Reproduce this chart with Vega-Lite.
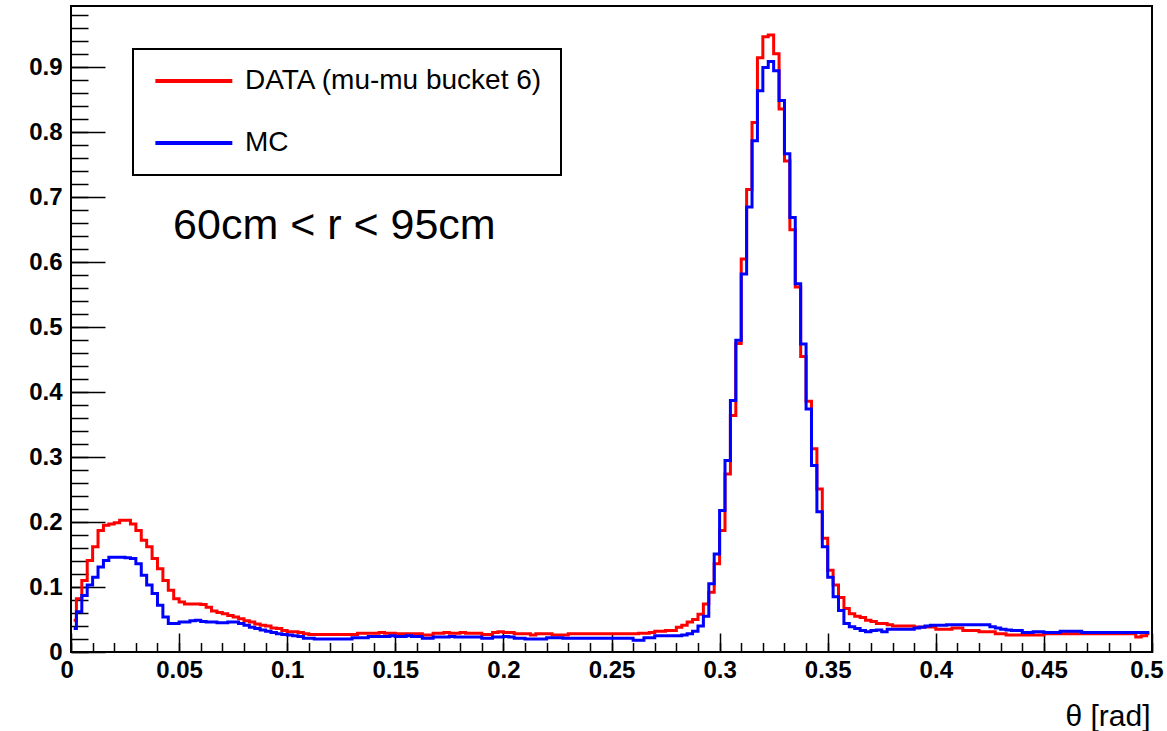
{
  "$schema": "https://vega.github.io/schema/vega-lite/v6.json",
  "width": 1081,
  "height": 646,
  "autosize": {"type": "none"},
  "padding": {"left": 71, "top": 6, "right": 15, "bottom": 79},
  "background": "white",
  "config": {
    "view": {"stroke": "black", "strokeWidth": 2},
    "font": "Liberation Sans",
    "axis": {"labelColor": "black", "tickColor": "black", "domainColor": "black", "grid": false, "labelFont": "Liberation Sans", "titleFont": "Liberation Sans", "titleColor": "black", "tickWidth": 1.5}
  },
  "datasets": {
    "hist": [
      {"theta":0.00125,"data":0.049,"mc":0.036},{"theta":0.00375,"data":0.082,"mc":0.062},{"theta":0.00625,"data":0.110,"mc":0.087},{"theta":0.00875,"data":0.141,"mc":0.103},{"theta":0.01125,"data":0.162,"mc":0.115},
      {"theta":0.01375,"data":0.187,"mc":0.131},{"theta":0.01625,"data":0.195,"mc":0.141},{"theta":0.01875,"data":0.197,"mc":0.146},{"theta":0.02125,"data":0.199,"mc":0.146},{"theta":0.02375,"data":0.203,"mc":0.146},
      {"theta":0.02625,"data":0.203,"mc":0.145},{"theta":0.02875,"data":0.197,"mc":0.144},{"theta":0.03125,"data":0.187,"mc":0.136},{"theta":0.03375,"data":0.172,"mc":0.118},{"theta":0.03625,"data":0.162,"mc":0.103},
      {"theta":0.03875,"data":0.144,"mc":0.090},{"theta":0.04125,"data":0.128,"mc":0.072},{"theta":0.04375,"data":0.110,"mc":0.054},{"theta":0.04625,"data":0.095,"mc":0.044},{"theta":0.04875,"data":0.082,"mc":0.044},
      {"theta":0.05125,"data":0.077,"mc":0.046},{"theta":0.05375,"data":0.074,"mc":0.046},{"theta":0.05625,"data":0.074,"mc":0.048},{"theta":0.05875,"data":0.074,"mc":0.049},{"theta":0.06125,"data":0.073,"mc":0.047},
      {"theta":0.06375,"data":0.069,"mc":0.046},{"theta":0.06625,"data":0.063,"mc":0.046},{"theta":0.06875,"data":0.061,"mc":0.045},{"theta":0.07125,"data":0.059,"mc":0.045},{"theta":0.07375,"data":0.056,"mc":0.046},
      {"theta":0.07625,"data":0.054,"mc":0.046},{"theta":0.07875,"data":0.051,"mc":0.044},{"theta":0.08125,"data":0.048,"mc":0.041},{"theta":0.08375,"data":0.046,"mc":0.038},{"theta":0.08625,"data":0.043,"mc":0.036},
      {"theta":0.08875,"data":0.041,"mc":0.034},{"theta":0.09125,"data":0.040,"mc":0.032},{"theta":0.09375,"data":0.037,"mc":0.030},{"theta":0.09625,"data":0.036,"mc":0.028},{"theta":0.09875,"data":0.033,"mc":0.027},
      {"theta":0.10125,"data":0.031,"mc":0.026},{"theta":0.10375,"data":0.031,"mc":0.025},{"theta":0.10625,"data":0.030,"mc":0.024},{"theta":0.10875,"data":0.028,"mc":0.021},{"theta":0.11125,"data":0.027,"mc":0.021},
      {"theta":0.11375,"data":0.027,"mc":0.020},{"theta":0.11625,"data":0.027,"mc":0.020},{"theta":0.11875,"data":0.027,"mc":0.020},{"theta":0.12125,"data":0.027,"mc":0.020},{"theta":0.12375,"data":0.027,"mc":0.020},
      {"theta":0.12625,"data":0.027,"mc":0.020},{"theta":0.12875,"data":0.027,"mc":0.020},{"theta":0.13125,"data":0.027,"mc":0.022},{"theta":0.13375,"data":0.029,"mc":0.022},{"theta":0.13625,"data":0.029,"mc":0.022},
      {"theta":0.13875,"data":0.029,"mc":0.024},{"theta":0.14125,"data":0.029,"mc":0.024},{"theta":0.14375,"data":0.030,"mc":0.024},{"theta":0.14625,"data":0.029,"mc":0.024},{"theta":0.14875,"data":0.029,"mc":0.025},
      {"theta":0.15125,"data":0.028,"mc":0.024},{"theta":0.15375,"data":0.028,"mc":0.024},{"theta":0.15625,"data":0.028,"mc":0.025},{"theta":0.15875,"data":0.028,"mc":0.024},{"theta":0.16125,"data":0.028,"mc":0.024},
      {"theta":0.16375,"data":0.026,"mc":0.021},{"theta":0.16625,"data":0.026,"mc":0.021},{"theta":0.16875,"data":0.029,"mc":0.023},{"theta":0.17125,"data":0.029,"mc":0.023},{"theta":0.17375,"data":0.030,"mc":0.023},
      {"theta":0.17625,"data":0.029,"mc":0.024},{"theta":0.17875,"data":0.029,"mc":0.023},{"theta":0.18125,"data":0.030,"mc":0.023},{"theta":0.18375,"data":0.029,"mc":0.023},{"theta":0.18625,"data":0.029,"mc":0.023},
      {"theta":0.18875,"data":0.029,"mc":0.023},{"theta":0.19125,"data":0.027,"mc":0.021},{"theta":0.19375,"data":0.027,"mc":0.021},{"theta":0.19625,"data":0.030,"mc":0.023},{"theta":0.19875,"data":0.031,"mc":0.023},
      {"theta":0.20125,"data":0.030,"mc":0.024},{"theta":0.20375,"data":0.030,"mc":0.023},{"theta":0.20625,"data":0.028,"mc":0.021},{"theta":0.20875,"data":0.028,"mc":0.021},{"theta":0.21125,"data":0.028,"mc":0.020},
      {"theta":0.21375,"data":0.026,"mc":0.020},{"theta":0.21625,"data":0.028,"mc":0.020},{"theta":0.21875,"data":0.028,"mc":0.020},{"theta":0.22125,"data":0.028,"mc":0.022},{"theta":0.22375,"data":0.026,"mc":0.022},
      {"theta":0.22625,"data":0.026,"mc":0.022},{"theta":0.22875,"data":0.026,"mc":0.021},{"theta":0.23125,"data":0.028,"mc":0.021},{"theta":0.23375,"data":0.028,"mc":0.021},{"theta":0.23625,"data":0.028,"mc":0.021},
      {"theta":0.23875,"data":0.028,"mc":0.021},{"theta":0.24125,"data":0.028,"mc":0.021},{"theta":0.24375,"data":0.028,"mc":0.021},{"theta":0.24625,"data":0.028,"mc":0.021},{"theta":0.24875,"data":0.028,"mc":0.021},
      {"theta":0.25125,"data":0.028,"mc":0.021},{"theta":0.25375,"data":0.028,"mc":0.021},{"theta":0.25625,"data":0.028,"mc":0.021},{"theta":0.25875,"data":0.028,"mc":0.021},{"theta":0.26125,"data":0.028,"mc":0.018},
      {"theta":0.26375,"data":0.029,"mc":0.018},{"theta":0.26625,"data":0.029,"mc":0.022},{"theta":0.26875,"data":0.030,"mc":0.022},{"theta":0.27125,"data":0.032,"mc":0.025},{"theta":0.27375,"data":0.032,"mc":0.025},
      {"theta":0.27625,"data":0.033,"mc":0.025},{"theta":0.27875,"data":0.033,"mc":0.025},{"theta":0.28125,"data":0.038,"mc":0.025},{"theta":0.28375,"data":0.041,"mc":0.026},{"theta":0.28625,"data":0.046,"mc":0.028},
      {"theta":0.28875,"data":0.050,"mc":0.032},{"theta":0.29125,"data":0.058,"mc":0.040},{"theta":0.29375,"data":0.074,"mc":0.055},{"theta":0.29625,"data":0.092,"mc":0.105},{"theta":0.29875,"data":0.136,"mc":0.151},
      {"theta":0.30125,"data":0.187,"mc":0.218},{"theta":0.30375,"data":0.274,"mc":0.295},{"theta":0.30625,"data":0.364,"mc":0.387},{"theta":0.30875,"data":0.475,"mc":0.480},{"theta":0.31125,"data":0.605,"mc":0.582},
      {"theta":0.31375,"data":0.712,"mc":0.685},{"theta":0.31625,"data":0.815,"mc":0.787},{"theta":0.31875,"data":0.915,"mc":0.864},{"theta":0.32125,"data":0.947,"mc":0.900},{"theta":0.32375,"data":0.950,"mc":0.909},
      {"theta":0.32625,"data":0.921,"mc":0.895},{"theta":0.32875,"data":0.836,"mc":0.849},{"theta":0.33125,"data":0.756,"mc":0.767},{"theta":0.33375,"data":0.650,"mc":0.669},{"theta":0.33625,"data":0.562,"mc":0.567},
      {"theta":0.33875,"data":0.455,"mc":0.474},{"theta":0.34125,"data":0.386,"mc":0.374},{"theta":0.34375,"data":0.313,"mc":0.287},{"theta":0.34625,"data":0.251,"mc":0.216},{"theta":0.34875,"data":0.175,"mc":0.162},
      {"theta":0.35125,"data":0.126,"mc":0.115},{"theta":0.35375,"data":0.103,"mc":0.085},{"theta":0.35625,"data":0.084,"mc":0.064},{"theta":0.35875,"data":0.067,"mc":0.044},{"theta":0.36125,"data":0.059,"mc":0.039},
      {"theta":0.36375,"data":0.055,"mc":0.036},{"theta":0.36625,"data":0.053,"mc":0.033},{"theta":0.36875,"data":0.049,"mc":0.031},{"theta":0.37125,"data":0.047,"mc":0.033},{"theta":0.37375,"data":0.044,"mc":0.034},
      {"theta":0.37625,"data":0.044,"mc":0.031},{"theta":0.37875,"data":0.042,"mc":0.035},{"theta":0.38125,"data":0.040,"mc":0.035},{"theta":0.38375,"data":0.040,"mc":0.035},{"theta":0.38625,"data":0.040,"mc":0.035},
      {"theta":0.38875,"data":0.040,"mc":0.035},{"theta":0.39125,"data":0.0385,"mc":0.037},{"theta":0.39375,"data":0.0385,"mc":0.038},{"theta":0.39625,"data":0.0385,"mc":0.040},{"theta":0.39875,"data":0.0385,"mc":0.041},
      {"theta":0.40125,"data":0.035,"mc":0.041},{"theta":0.40375,"data":0.035,"mc":0.041},{"theta":0.40625,"data":0.035,"mc":0.042},{"theta":0.40875,"data":0.037,"mc":0.042},{"theta":0.41125,"data":0.037,"mc":0.042},
      {"theta":0.41375,"data":0.033,"mc":0.042},{"theta":0.41625,"data":0.033,"mc":0.042},{"theta":0.41875,"data":0.033,"mc":0.042},{"theta":0.42125,"data":0.031,"mc":0.042},{"theta":0.42375,"data":0.031,"mc":0.042},
      {"theta":0.42625,"data":0.031,"mc":0.039},{"theta":0.42875,"data":0.028,"mc":0.037},{"theta":0.43125,"data":0.028,"mc":0.035},{"theta":0.43375,"data":0.026,"mc":0.034},{"theta":0.43625,"data":0.026,"mc":0.033},
      {"theta":0.43875,"data":0.026,"mc":0.033},{"theta":0.44125,"data":0.026,"mc":0.030},{"theta":0.44375,"data":0.026,"mc":0.030},{"theta":0.44625,"data":0.026,"mc":0.031},{"theta":0.44875,"data":0.026,"mc":0.031},
      {"theta":0.45125,"data":0.028,"mc":0.030},{"theta":0.45375,"data":0.028,"mc":0.030},{"theta":0.45625,"data":0.028,"mc":0.030},{"theta":0.45875,"data":0.028,"mc":0.032},{"theta":0.46125,"data":0.028,"mc":0.032},
      {"theta":0.46375,"data":0.028,"mc":0.032},{"theta":0.46625,"data":0.028,"mc":0.032},{"theta":0.46875,"data":0.028,"mc":0.030},{"theta":0.47125,"data":0.028,"mc":0.030},{"theta":0.47375,"data":0.028,"mc":0.030},
      {"theta":0.47625,"data":0.028,"mc":0.030},{"theta":0.47875,"data":0.028,"mc":0.030},{"theta":0.48125,"data":0.028,"mc":0.030},{"theta":0.48375,"data":0.028,"mc":0.030},{"theta":0.48625,"data":0.028,"mc":0.030},
      {"theta":0.48875,"data":0.028,"mc":0.030},{"theta":0.49125,"data":0.028,"mc":0.030},{"theta":0.49375,"data":0.023,"mc":0.030},{"theta":0.49625,"data":0.025,"mc":0.030},{"theta":0.49875,"data":0.028,"mc":0.030}
    ]
  },
  "layer": [
    {
      "data": {"name": "hist"},
      "mark": {"type": "line", "interpolate": "step", "strokeWidth": 3},
      "encoding": {
        "x": {"field": "theta", "type": "quantitative", "scale": {"domain": [0, 0.5], "nice": false, "zero": false},
          "axis": {"orient": "bottom", "values": [0,0.05,0.1,0.15,0.2,0.25,0.3,0.35,0.4,0.45,0.5], "format": "~g", "ticks": false, "domain": false, "labelFontSize": 24, "labelFontWeight": "bold", "labelPadding": 6, "labelFlush": true, "labelFlushOffset": 11, "labelOverlap": false,
            "title": "θ [rad]", "titleFontSize": 30, "titleFontWeight": "normal", "titleAnchor": "end", "titleAlign": "right", "titleX": 1079, "titleY": 73, "titleBaseline": "alphabetic"}},
        "y": {"field": "data", "type": "quantitative", "scale": {"domain": [0, 0.9945], "nice": false, "zero": true},
          "axis": {"orient": "left", "values": [0,0.1,0.2,0.3,0.4,0.5,0.6,0.7,0.8,0.9], "format": "~g", "ticks": false, "domain": false, "labelFontSize": 24, "labelFontWeight": "bold", "labelPadding": 9, "labelFlush": false, "labelOverlap": false, "title": null}},
        "color": {"datum": "DATA (mu-mu bucket 6)", "type": "nominal",
          "scale": {"domain": ["DATA (mu-mu bucket 6)", "MC"], "range": ["#ff0000", "#0000ff"]},
          "legend": {"title": null, "orient": "none", "legendX": 62, "legendY": 43, "strokeColor": "black", "padding": 18,
            "symbolType": "M-1,0H7", "symbolSize": 370, "symbolStrokeWidth": 4, "labelFontSize": 28, "labelFont": "Liberation Sans", "labelColor": "black",
            "labelOffset": 66, "rowPadding": 34, "labelLimit": 700,
            "encode": {"legend": {"update": {"strokeWidth": {"value": 2}}}}}}
      }
    },
    {
      "data": {"name": "hist"},
      "mark": {"type": "line", "interpolate": "step", "strokeWidth": 3},
      "encoding": {
        "x": {"field": "theta", "type": "quantitative",
          "axis": {"orient": "bottom", "offset": -19, "tickSize": 19, "values": [0,0.05,0.1,0.15,0.2,0.25,0.3,0.35,0.4,0.45,0.5], "labels": false, "domain": false, "title": null}},
        "y": {"field": "mc", "type": "quantitative",
          "axis": {"orient": "left", "offset": -34, "tickSize": 34, "values": [0,0.1,0.2,0.3,0.4,0.5,0.6,0.7,0.8,0.9], "labels": false, "domain": false, "title": null}},
        "color": {"datum": "MC", "type": "nominal"}
      }
    },
    {
      "data": {"values": [{"label": "60cm < r < 95cm"}]},
      "mark": {"type": "text", "align": "left", "baseline": "alphabetic", "fontSize": 43, "font": "Liberation Sans", "color": "black"},
      "encoding": {
        "x": {"datum": 0.0472, "type": "quantitative",
          "axis": {"orient": "bottom", "offset": -9.5, "tickSize": 9.5, "values": [0,0.01,0.02,0.03,0.04,0.05,0.06,0.07,0.08,0.09,0.1,0.11,0.12,0.13,0.14,0.15,0.16,0.17,0.18,0.19,0.2,0.21,0.22,0.23,0.24,0.25,0.26,0.27,0.28,0.29,0.3,0.31,0.32,0.33,0.34,0.35,0.36,0.37,0.38,0.39,0.4,0.41,0.42,0.43,0.44,0.45,0.46,0.47,0.48,0.49,0.5], "labels": false, "domain": false, "title": null}},
        "y": {"datum": 0.6365, "type": "quantitative",
          "axis": {"orient": "left", "offset": -17, "tickSize": 17, "values": [0,0.02,0.04,0.06,0.08,0.1,0.12,0.14,0.16,0.18,0.2,0.22,0.24,0.26,0.28,0.3,0.32,0.34,0.36,0.38,0.4,0.42,0.44,0.46,0.48,0.5,0.52,0.54,0.56,0.58,0.6,0.62,0.64,0.66,0.68,0.7,0.72,0.74,0.76,0.78,0.8,0.82,0.84,0.86,0.88,0.9,0.92,0.94,0.96,0.98], "labels": false, "domain": false, "title": null}},
        "text": {"field": "label"}
      }
    }
  ],
  "resolve": {"axis": {"x": "independent", "y": "independent"}}
}
